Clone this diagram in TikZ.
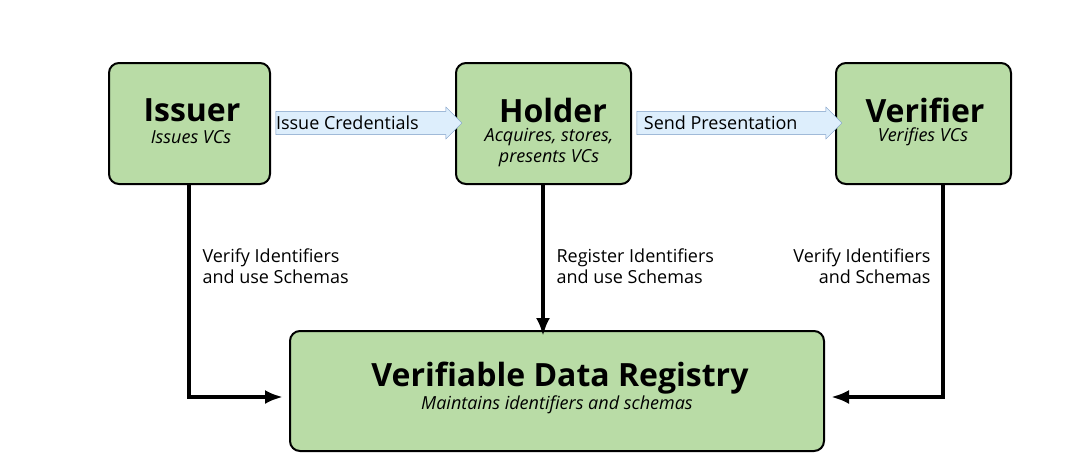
\documentclass[tikz,border=0pt]{standalone}
\usepackage{fontspec}
\setmainfont{Open Sans}
\usetikzlibrary{arrows.meta,positioning,shapes.arrows}
\definecolor{boxgreen}{HTML}{B9DCA6}
\definecolor{flowblue}{HTML}{DDEEFC}
\definecolor{flowedge}{HTML}{7A9CC6}
\begin{document}
\begin{tikzpicture}[x=1pt,y=-1pt,
    role/.style={draw, line width=2pt, fill=boxgreen, rounded corners=10pt, align=center},
    title/.style={font=\fontsize{32}{34}\selectfont\bfseries},
    sub/.style={font=\fontsize{18}{20}\selectfont\itshape},
    flow/.style={single arrow, draw=flowedge, fill=flowblue, single arrow head extend=3pt,
        minimum width=32pt, inner sep=1pt, font=\fontsize{18}{20}\selectfont},
    link/.style={line width=3.6pt, -{Latex[length=18pt,width=14pt]}},
    note/.style={font=\fontsize{18}{21}\selectfont, align=left}]
\path[use as bounding box] (0,0) rectangle (1080,475);
% the three roles
\node[role, minimum width=161pt, minimum height=121pt] (issuer) at (189.5,123.5) {};
\node[title] at (192,110) {Issuer};
\node[sub] at (191,137) {Issues VCs};
\node[role, minimum width=175pt, minimum height=121pt] (holder) at (543.5,123.5) {};
\node[title] at (553,110) {Holder};
\node[sub, align=center, font=\fontsize{18}{21}\selectfont\itshape] at (549,148) {Acquires, stores,\\presents VCs};
\node[role, minimum width=175pt, minimum height=121pt] (verifier) at (923.5,123.5) {};
\node[title] at (925,110) {Verifier};
\node[sub] at (923,137) {Verifies VCs};
% registry
\node[role, minimum width=534pt, minimum height=120pt] (vdr) at (557,391) {};
\node[title] at (560,378) {Verifiable Data Registry};
\node[sub] at (557,405) {Maintains identifiers and schemas};
% flows between roles
\node[flow, minimum height=186pt] (issue) at (363,123) {\hspace{-1.1cm}Issue Credentials};
\node[flow, minimum height=205pt] (send) at (733.5,123) {\hspace{-0.9cm}Send Presentation};
% links to registry
\coordinate (vdrw) at ([xshift=-6pt]vdr.west |- 0,397);
\coordinate (vdre) at ([xshift=6pt]vdr.east |- 0,397);
\draw[link] (issuer.south -| 189,0) |- (vdrw);
\draw[link] (holder.south -| 543,0) -- ([yshift=-6pt]vdr.north -| 543,0);
\draw[link] (verifier.south -| 943,0) |- (vdre);
\node[note, anchor=north west] at (199,245) {Verify Identifiers\\and use Schemas};
\node[note, anchor=north west] at (553,245) {Register Identifiers\\and use Schemas};
\node[note, anchor=north east, align=right] at (934,245) {Verify Identifiers\\and Schemas};
\end{tikzpicture}
\end{document}
